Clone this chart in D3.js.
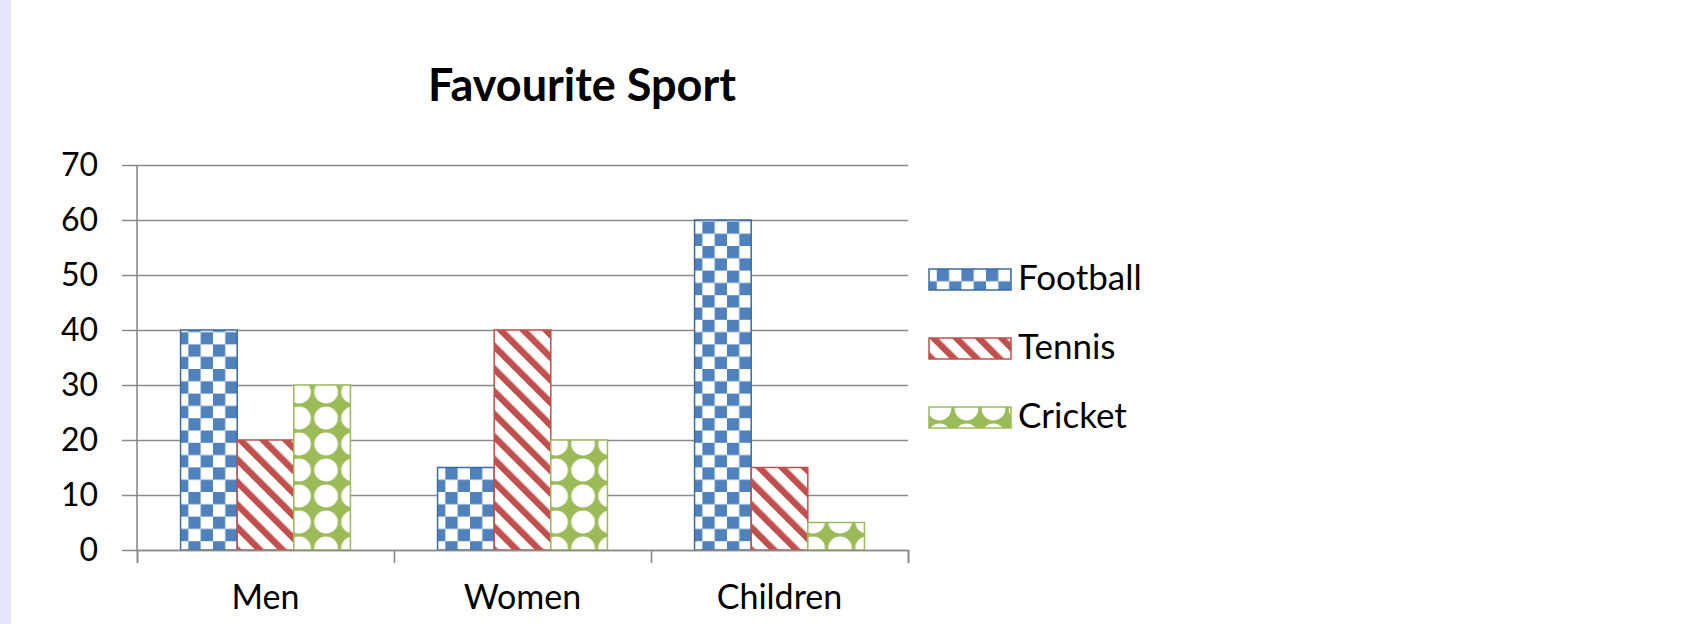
<!DOCTYPE html>
<html>
<head>
<meta charset="utf-8">
<script src="https://cdn.jsdelivr.net/npm/d3@7"></script>
<style>
  html, body { margin: 0; padding: 0; background: #fff; }
  svg { display: block; }
</style>
</head>
<body>
<div class="chart"></div>
<script>
// chart data
const categories = ["Men", "Women", "Children"];
const seriesNames = ["Football", "Tennis", "Cricket"];
const football = [40, 15, 60];
const tennis = [20, 40, 15];
const cricket = [30, 20, 5];
const yTicks = [0, 10, 20, 30, 40, 50, 60, 70];

const width = 1704, height = 624;
const font = "Lato, 'Open Sans', sans-serif";

// plot area
const plot = { left: 137, right: 908, top: 165, bottom: 550 };

const svg = d3.select(".chart").append("svg")
  .attr("width", width)
  .attr("height", height)
  .style("font-family", font);

// lavender strip on the left edge
svg.append("rect")
  .attr("x", 0).attr("y", 0)
  .attr("width", 11).attr("height", height)
  .attr("fill", "#e6e6fa");

// pattern fills
const defs = svg.append("defs");

const checker = defs.append("pattern")
  .attr("id", "pat-football")
  .attr("patternUnits", "userSpaceOnUse")
  .attr("x", 180).attr("y", 0)
  .attr("width", 24.6).attr("height", 24.6);
checker.append("rect").attr("width", 24.6).attr("height", 24.6).attr("fill", "#fff");
checker.append("rect").attr("x", 0).attr("y", 0).attr("width", 12.3).attr("height", 12.3).attr("fill", "#4f81bd");
checker.append("rect").attr("x", 12.3).attr("y", 12.3).attr("width", 12.3).attr("height", 12.3).attr("fill", "#4f81bd");

// downward diagonal stripes (top-left to bottom-right)
const stripes = defs.append("pattern")
  .attr("id", "pat-tennis")
  .attr("patternUnits", "userSpaceOnUse")
  .attr("width", 16).attr("height", 16)
  .attr("patternTransform", "rotate(-45)");
stripes.append("rect").attr("width", 16).attr("height", 16).attr("fill", "#fff");
stripes.append("rect").attr("x", 0).attr("y", 0).attr("width", 6.5).attr("height", 16).attr("fill", "#c0504d");

const diamonds = defs.append("pattern")
  .attr("id", "pat-cricket")
  .attr("patternUnits", "userSpaceOnUse")
  .attr("x", 294).attr("y", 379)
  .attr("width", 27).attr("height", 26);
diamonds.append("rect").attr("width", 27).attr("height", 26).attr("fill", "#9bbb59");
diamonds.append("ellipse")
  .attr("cx", 13.5).attr("cy", 13).attr("rx", 11.8).attr("ry", 11.4)
  .attr("fill", "#fff");

const fills = ["url(#pat-football)", "url(#pat-tennis)", "url(#pat-cricket)"];
const strokes = ["#3c6aa3", "#c0504d", "#9bbb59"];
const values = [football, tennis, cricket];

// scales
const x0 = d3.scaleBand()
  .domain(categories)
  .range([plot.left, plot.right])
  .paddingInner(0.339)
  .paddingOuter(0.1695);

const x1 = d3.scaleBand()
  .domain(seriesNames)
  .range([0, x0.bandwidth()]);

const y = d3.scaleLinear()
  .domain([0, 70])
  .range([plot.bottom, plot.top]);

// gridlines + y ticks
const yAxis = svg.append("g")
  .attr("transform", `translate(${plot.left},0)`)
  .call(d3.axisLeft(y)
    .tickValues(yTicks)
    .tickSizeInner(-(plot.right - plot.left))
    .tickSizeOuter(0)
    .tickFormat(d3.format("d")));
yAxis.select(".domain").remove();
yAxis.selectAll(".tick line")
  .attr("x1", -15)
  .attr("stroke", "#8a8a8a")
  .attr("stroke-width", 1.6);
yAxis.selectAll(".tick text")
  .attr("x", -39)
  .style("font-family", font)
  .style("font-size", "32px")
  .attr("fill", "#000");

// y axis line
svg.append("line")
  .attr("x1", plot.left).attr("x2", plot.left)
  .attr("y1", plot.top).attr("y2", plot.bottom)
  .attr("stroke", "#8a8a8a")
  .attr("stroke-width", 1.6);

// bars
const groups = svg.append("g")
  .selectAll("g")
  .data(categories)
  .join("g")
  .attr("transform", d => `translate(${x0(d)},0)`);

groups.selectAll("rect")
  .data((c, i) => seriesNames.map((s, j) => ({ series: s, idx: j, value: values[j][i] })))
  .join("rect")
  .attr("x", d => x1(d.series))
  .attr("y", d => y(d.value))
  .attr("width", x1.bandwidth())
  .attr("height", d => y(0) - y(d.value))
  .attr("fill", d => fills[d.idx])
  .attr("stroke", d => strokes[d.idx])
  .attr("stroke-width", 1.5);

// x axis with ticks at category boundaries
const xEdges = d3.scaleLinear().domain([0, categories.length]).range([plot.left, plot.right]);
const xAxis = svg.append("g")
  .attr("transform", `translate(0,${plot.bottom})`)
  .call(d3.axisBottom(xEdges)
    .tickValues(d3.range(categories.length + 1))
    .tickSize(13)
    .tickFormat(""));
xAxis.select(".domain")
  .attr("stroke", "#8a8a8a")
  .attr("stroke-width", 1.6);
xAxis.selectAll(".tick line")
  .attr("stroke", "#8a8a8a")
  .attr("stroke-width", 1.6);

// category labels
svg.append("g")
  .selectAll("text")
  .data(categories)
  .join("text")
  .attr("x", d => x0(d) + x0.bandwidth() / 2)
  .attr("y", 609)
  .attr("text-anchor", "middle")
  .style("font-size", "34px")
  .attr("fill", "#000")
  .text(d => d);

// title
svg.append("text")
  .attr("x", 582)
  .attr("y", 101)
  .attr("text-anchor", "middle")
  .style("font-size", "45px")
  .style("font-weight", "bold")
  .attr("fill", "#000")
  .text("Favourite Sport");

// legend
const legend = svg.append("g")
  .selectAll("g")
  .data(seriesNames)
  .join("g")
  .attr("transform", (d, i) => `translate(929,${269 + i * 69})`);

legend.append("rect")
  .attr("width", 82)
  .attr("height", 21)
  .attr("fill", (d, i) => fills[i])
  .attr("stroke", (d, i) => strokes[i])
  .attr("stroke-width", 1.5);

legend.append("text")
  .attr("x", 89)
  .attr("y", 9)
  .attr("dy", "0.35em")
  .style("font-size", "35px")
  .attr("fill", "#000")
  .text(d => d);
</script>
</body>
</html>
